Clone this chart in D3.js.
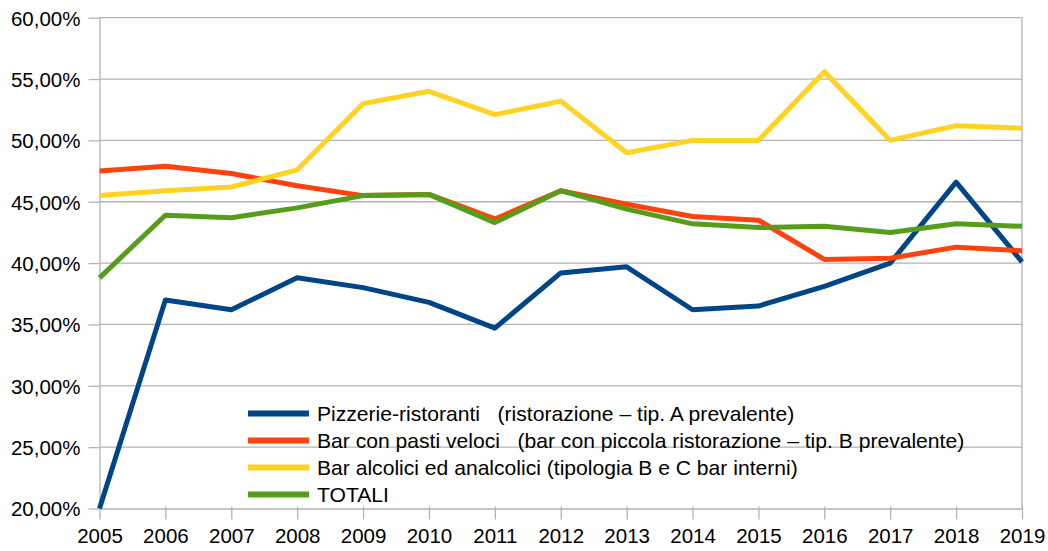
<!DOCTYPE html>
<html>
<head>
<meta charset="utf-8">
<script src="https://cdn.jsdelivr.net/npm/d3@7"></script>
<style>
  html, body { margin: 0; padding: 0; background: #fff; }
  svg { display: block; font-family: "Liberation Sans", Arial, sans-serif; }
</style>
</head>
<body>
<svg id="chart" width="1048" height="551"></svg>
<script>
// Years on the horizontal axis
const years = [2005, 2006, 2007, 2008, 2009, 2010, 2011, 2012, 2013, 2014, 2015, 2016, 2017, 2018, 2019];

// Share per year, one array per category
const pizzerie = [0.200, 0.370, 0.362, 0.388, 0.380, 0.368, 0.347, 0.392, 0.397, 0.362, 0.365, 0.381, 0.400, 0.466, 0.401];
const barPasti = [0.475, 0.479, 0.473, 0.463, 0.455, 0.456, 0.436, 0.459, 0.448, 0.438, 0.435, 0.403, 0.404, 0.413, 0.410];
const barAlcolici = [0.455, 0.459, 0.462, 0.476, 0.530, 0.540, 0.521, 0.532, 0.490, 0.500, 0.500, 0.556, 0.500, 0.512, 0.510];
const totali = [0.388, 0.439, 0.437, 0.445, 0.455, 0.456, 0.433, 0.459, 0.444, 0.432, 0.429, 0.430, 0.425, 0.432, 0.430];

// Legend labels and series colours
const seriesNames = [
  "Pizzerie-ristoranti   (ristorazione \u2013 tip. A prevalente)",
  "Bar con pasti veloci   (bar con piccola ristorazione \u2013 tip. B prevalente)",
  "Bar alcolici ed analcolici (tipologia B e C bar interni)",
  "TOTALI"
];
const seriesColors = ["#004586", "#ff420e", "#ffd320", "#579d1c"];
const yTicks = [0.20, 0.25, 0.30, 0.35, 0.40, 0.45, 0.50, 0.55, 0.60];

(function () {
  const series = [pizzerie, barPasti, barAlcolici, totali].map((vals, i) => ({
    name: seriesNames[i],
    color: seriesColors[i],
    values: vals.map((v, j) => ({ year: years[j], value: v }))
  }));

  const svg = d3.select("#chart");
  const plotLeft = 99.5, plotRight = 1022, plotTop = 17.7, plotBottom = 508.5;
  const gridColor = "#b3b3b3";
  const axisFont = 20.5;
  const legendFont = 21.1;

  const x = d3.scaleLinear().domain([2005, 2019]).range([plotLeft, plotRight]);
  const y = d3.scaleLinear().domain([0.20, 0.60]).range([plotBottom, plotTop]);

  const it = d3.formatLocale({ decimal: ",", thousands: ".", grouping: [3], currency: ["", "\u00a0€"] });
  const pct = it.format(".2%");

  // Horizontal gridlines
  svg.append("g")
    .selectAll("line")
    .data(yTicks.slice(1))
    .join("line")
    .attr("x1", plotLeft).attr("x2", plotRight)
    .attr("y1", d => y(d)).attr("y2", d => y(d))
    .attr("stroke", gridColor).attr("stroke-width", 1.3);

  // Right edge of the plot area
  svg.append("line")
    .attr("x1", plotRight).attr("x2", plotRight)
    .attr("y1", plotTop).attr("y2", plotBottom)
    .attr("stroke", gridColor).attr("stroke-width", 1.3);

  // Y axis
  const yAxis = svg.append("g")
    .attr("transform", `translate(${plotLeft},0)`)
    .call(d3.axisLeft(y).tickValues(yTicks).tickFormat(pct).tickSize(11).tickSizeOuter(0).tickPadding(8));

  // X axis
  const xAxis = svg.append("g")
    .attr("transform", `translate(0,${plotBottom})`)
    .call(d3.axisBottom(x).tickValues(years).tickFormat(d3.format("d")).tickSize(11).tickSizeOuter(0).tickPadding(9));

  [yAxis, xAxis].forEach(g => {
    g.select(".domain").attr("stroke", gridColor).attr("stroke-width", 1.3);
    g.selectAll(".tick line").attr("stroke", gridColor).attr("stroke-width", 1.3);
    g.selectAll(".tick text")
      .attr("fill", "#000")
      .style("font-size", axisFont + "px")
      .style("font-family", "'Liberation Sans', Arial, sans-serif");
  });
  xAxis.selectAll(".tick line").attr("y1", -2);
  yAxis.selectAll(".tick text").attr("dy", "0.36em");

  // Series lines
  const line = d3.line()
    .x(d => x(d.year))
    .y(d => y(d.value));

  svg.append("g")
    .selectAll("path")
    .data(series)
    .join("path")
    .attr("d", d => line(d.values))
    .attr("fill", "none")
    .attr("stroke", d => d.color)
    .attr("stroke-width", 5)
    .attr("stroke-linejoin", "round")
    .attr("stroke-linecap", "butt");

  // Legend
  const legend = svg.append("g").attr("transform", "translate(248,413.5)");
  const rows = legend.selectAll("g")
    .data(series)
    .join("g")
    .attr("transform", (d, i) => `translate(0,${i * 27})`);
  rows.append("line")
    .attr("x1", 0).attr("x2", 61)
    .attr("y1", 0).attr("y2", 0)
    .attr("stroke", d => d.color)
    .attr("stroke-width", 6);
  rows.append("text")
    .attr("x", 69)
    .attr("y", 0)
    .attr("dy", "0.36em")
    .attr("fill", "#000")
    .style("font-size", legendFont + "px")
    .style("white-space", "pre")
    .attr("xml:space", "preserve")
    .text(d => d.name);
})();
</script>
</body>
</html>
